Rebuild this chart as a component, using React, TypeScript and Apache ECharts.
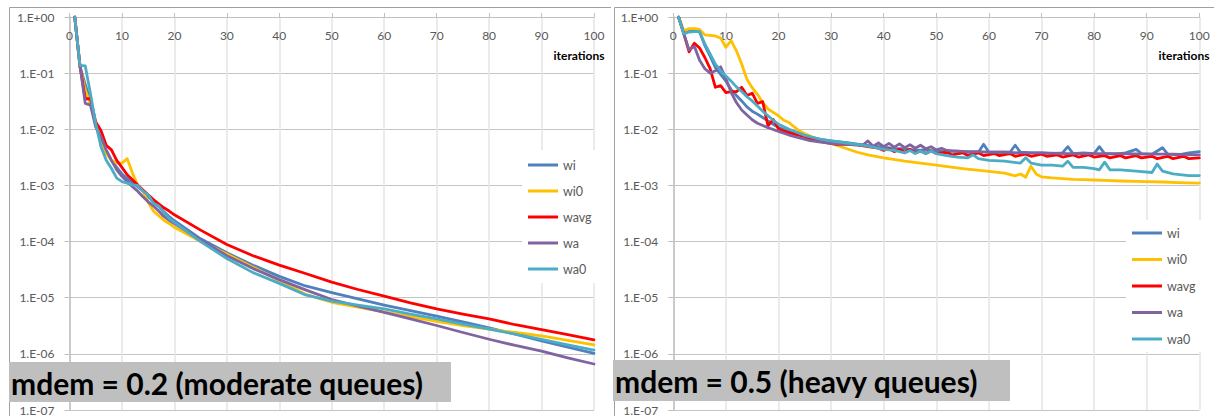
import React, { useEffect, useRef } from "react";
import * as echarts from "echarts";

const SERIES_NAMES = ["wi", "wi0", "wavg", "wa", "wa0"];
const SERIES_COLORS = ["#4F81BD", "#FFC000", "#FF0000", "#8064A2", "#4BACC6"];
const X_TICKS = [0, 10, 20, 30, 40, 50, 60, 70, 80, 90, 100];
const TITLE_LEFT = "mdem = 0.2 (moderate queues)";
const TITLE_RIGHT = "mdem = 0.5 (heavy queues)";
const X_NAME = "iterations";

// ---- left panel (mdem = 0.2) ----
const ITER_L = [1, 2, 3, 4, 5, 6, 7, 8, 9, 10, 11, 12, 13, 14, 15, 16, 17, 18, 19, 20, 25, 30, 35, 40, 45, 50, 55, 60, 65, 70, 75, 80, 85, 90, 95, 100];
const L_WI = [1, 0.13, 0.063, 0.032, 0.0117, 0.0063, 0.004, 0.0028, 0.0021, 0.0016, 0.00132, 0.00112, 9.5e-4, 7.9e-4, 6.3e-4, 5.1e-4, 4.2e-4, 3.4e-4, 2.8e-4, 2.35e-4, 1.12e-4, 6.3e-5, 3.8e-5, 2.4e-5, 1.62e-5, 1.23e-5, 9.5e-6, 7.4e-6, 5.9e-6, 4.7e-6, 3.7e-6, 2.9e-6, 2.24e-6, 1.7e-6, 1.32e-6, 1.02e-6];
const L_WI0 = [1, 0.126, 0.05, 0.028, 0.0126, 0.0056, 0.0037, 0.0028, 0.0025, 0.0025, 0.003, 0.00166, 0.00102, 7.9e-4, 5.0e-4, 3.5e-4, 2.9e-4, 2.4e-4, 2.1e-4, 1.8e-4, 1.0e-4, 6.0e-5, 3.5e-5, 2.0e-5, 1.15e-5, 8.3e-6, 6.8e-6, 5.6e-6, 4.6e-6, 3.8e-6, 3.2e-6, 2.75e-6, 2.4e-6, 2.1e-6, 1.74e-6, 1.45e-6];
const L_WAVG = [1, 0.135, 0.035, 0.035, 0.0135, 0.0095, 0.0052, 0.0043, 0.0028, 0.0021, 0.00155, 0.00126, 0.00102, 8.3e-4, 6.8e-4, 5.6e-4, 4.7e-4, 4.0e-4, 3.5e-4, 3.0e-4, 1.6e-4, 8.9e-5, 5.6e-5, 3.8e-5, 2.7e-5, 1.9e-5, 1.4e-5, 1.07e-5, 8.1e-6, 6.3e-6, 5.1e-6, 4.2e-6, 3.3e-6, 2.7e-6, 2.2e-6, 1.78e-6];
const L_WA = [1, 0.135, 0.029, 0.027, 0.011, 0.0074, 0.0043, 0.0028, 0.0019, 0.00145, 0.00117, 9.5e-4, 7.9e-4, 6.3e-4, 5.1e-4, 4.3e-4, 3.5e-4, 2.8e-4, 2.4e-4, 2.1e-4, 1.07e-4, 5.6e-5, 3.3e-5, 2.1e-5, 1.38e-5, 9.3e-6, 7.1e-6, 5.5e-6, 4.2e-6, 3.2e-6, 2.4e-6, 1.82e-6, 1.41e-6, 1.12e-6, 8.5e-7, 6.6e-7];
const L_WA0 = [1, 0.138, 0.135, 0.043, 0.0126, 0.0049, 0.0028, 0.002, 0.00135, 0.00117, 0.0011, 0.00102, 0.001, 7.9e-4, 6.8e-4, 4.8e-4, 4.3e-4, 3.3e-4, 2.6e-4, 2.2e-4, 1.0e-4, 5.0e-5, 2.8e-5, 1.8e-5, 1.12e-5, 8.7e-6, 7.4e-6, 6.3e-6, 5.1e-6, 4.2e-6, 3.4e-6, 2.75e-6, 2.24e-6, 1.82e-6, 1.45e-6, 1.17e-6];

// ---- right panel (mdem = 0.5): [iteration, value] ----
const R_WI = [[1, 1], [2, 0.54], [3, 0.57], [4, 0.57], [5, 0.54], [6, 0.31], [7, 0.2], [8, 0.126], [9, 0.095], [10, 0.072], [11, 0.051], [12, 0.04], [13, 0.032], [14, 0.025], [15, 0.021], [16, 0.0186], [17, 0.0162], [18, 0.0141], [19, 0.0123], [20, 0.0107], [22, 0.0093], [25, 0.0076], [28, 0.0066], [30, 0.0062], [33, 0.0058], [36, 0.0053], [38, 0.005], [40, 0.0048], [42, 0.0045], [44, 0.0045], [46, 0.0042], [48, 0.0043], [50, 0.0041], [52, 0.004], [54, 0.0041], [56, 0.0039], [58, 0.0039], [59, 0.0054], [60, 0.0039], [62, 0.0039], [64, 0.0039], [65, 0.0052], [66, 0.0039], [68, 0.0038], [70, 0.0038], [72, 0.0037], [74, 0.0038], [75, 0.0049], [76, 0.0037], [78, 0.0038], [80, 0.0037], [81, 0.0049], [82, 0.0037], [84, 0.0036], [86, 0.0038], [88, 0.0044], [89, 0.0037], [91, 0.0036], [93, 0.0047], [94, 0.0036], [96, 0.0035], [98, 0.0038], [100, 0.004]];
const R_WI0 = [[1, 1], [2, 0.57], [3, 0.62], [4, 0.62], [5, 0.6], [6, 0.48], [7, 0.47], [8, 0.46], [9, 0.42], [10, 0.29], [11, 0.38], [12, 0.25], [13, 0.145], [14, 0.078], [15, 0.055], [16, 0.042], [17, 0.03], [18, 0.023], [19, 0.02], [20, 0.0174], [21, 0.0145], [22, 0.0132], [23, 0.011], [24, 0.0093], [25, 0.0083], [26, 0.0076], [27, 0.0069], [28, 0.0063], [30, 0.0056], [33, 0.0045], [35, 0.0039], [37, 0.0035], [40, 0.0031], [44, 0.0027], [50, 0.0023], [55, 0.002], [60, 0.00178], [63, 0.00165], [65, 0.00148], [66, 0.0016], [67, 0.0014], [68, 0.0022], [69, 0.0016], [70, 0.00142], [72, 0.00136], [74, 0.00132], [76, 0.00128], [78, 0.00127], [80, 0.00125], [82, 0.00123], [85, 0.0012], [88, 0.00118], [90, 0.00117], [93, 0.00115], [96, 0.00112], [100, 0.0011]];
const R_WAVG = [[1, 1], [2, 0.5], [3, 0.24], [4, 0.34], [5, 0.28], [6, 0.19], [7, 0.12], [8, 0.056], [9, 0.06], [10, 0.045], [11, 0.047], [12, 0.047], [13, 0.056], [14, 0.04], [15, 0.044], [16, 0.029], [17, 0.031], [18, 0.0115], [19, 0.015], [20, 0.0102], [21, 0.0093], [23, 0.0082], [25, 0.0074], [27, 0.0064], [29, 0.0058], [31, 0.0054], [33, 0.0054], [35, 0.0053], [37, 0.0049], [39, 0.0046], [40, 0.0042], [41, 0.0045], [42, 0.004], [43, 0.0044], [44, 0.0039], [45, 0.0044], [46, 0.0038], [47, 0.0041], [48, 0.0037], [49, 0.0041], [50, 0.0037], [52, 0.0039], [53, 0.0035], [55, 0.0038], [56, 0.0034], [58, 0.0038], [59, 0.0034], [61, 0.0037], [62, 0.0034], [64, 0.0037], [65, 0.0033], [67, 0.0036], [68, 0.0033], [70, 0.0036], [71, 0.0033], [73, 0.0035], [74, 0.0032], [76, 0.0035], [77, 0.0032], [79, 0.0035], [80, 0.0032], [82, 0.0034], [83, 0.0031], [85, 0.0034], [86, 0.0031], [88, 0.0034], [89, 0.0031], [91, 0.0033], [92, 0.003], [94, 0.0033], [95, 0.003], [97, 0.0033], [98, 0.003], [100, 0.0031]];
const R_WA = [[1, 1], [2, 0.5], [3, 0.26], [4, 0.3], [5, 0.17], [6, 0.12], [7, 0.1], [8, 0.11], [9, 0.13], [10, 0.08], [11, 0.045], [12, 0.03], [13, 0.022], [14, 0.018], [15, 0.0148], [16, 0.0128], [17, 0.0117], [18, 0.0107], [19, 0.0099], [20, 0.0092], [22, 0.0079], [24, 0.007], [26, 0.0063], [28, 0.0059], [30, 0.0056], [33, 0.0054], [36, 0.0052], [37, 0.0062], [38, 0.005], [39, 0.0057], [40, 0.0049], [41, 0.0056], [42, 0.0048], [43, 0.0055], [44, 0.0047], [45, 0.0053], [46, 0.0046], [47, 0.0052], [48, 0.0045], [49, 0.0049], [50, 0.0043], [51, 0.0046], [52, 0.0042], [54, 0.0041], [56, 0.004], [58, 0.004], [60, 0.0039], [63, 0.0039], [66, 0.0038], [70, 0.0038], [75, 0.0037], [80, 0.0037], [85, 0.0037], [90, 0.0036], [95, 0.0036], [100, 0.0035]];
const R_WA0 = [[1, 1], [2, 0.5], [3, 0.54], [4, 0.55], [5, 0.55], [6, 0.33], [7, 0.22], [8, 0.145], [9, 0.11], [10, 0.089], [11, 0.072], [12, 0.057], [13, 0.047], [14, 0.038], [15, 0.032], [16, 0.026], [17, 0.021], [18, 0.0174], [19, 0.0145], [20, 0.0123], [22, 0.01], [25, 0.0078], [28, 0.0066], [30, 0.0062], [33, 0.0057], [36, 0.0052], [38, 0.0048], [40, 0.0044], [42, 0.0042], [44, 0.0038], [45, 0.0042], [46, 0.0037], [47, 0.0041], [48, 0.0037], [49, 0.0041], [50, 0.0037], [52, 0.0034], [54, 0.0032], [56, 0.0031], [57, 0.0035], [58, 0.003], [60, 0.0028], [63, 0.0027], [66, 0.0025], [67, 0.0031], [68, 0.0025], [70, 0.0023], [72, 0.0023], [74, 0.0022], [75, 0.0027], [76, 0.0021], [78, 0.0021], [80, 0.002], [81, 0.0019], [82, 0.0026], [83, 0.0019], [85, 0.0019], [88, 0.0018], [91, 0.0017], [92, 0.0024], [93, 0.0018], [95, 0.0016], [98, 0.0015], [100, 0.0015]];

const LEFT_VALUES = [L_WI, L_WI0, L_WAVG, L_WA, L_WA0];
const RIGHT_VALUES = [R_WI, R_WI0, R_WAVG, R_WA, R_WA0];

const FONT = "Lato, 'Liberation Sans', sans-serif";

function fmtY(v: number): string {
  const e = Math.round(Math.log10(v));
  const a = Math.abs(e);
  return "1.E" + (e >= 0 ? "+" : "-") + (a < 10 ? "0" + a : String(a));
}

function buildOption() {
  const grids = [
    { left: 69.5, top: 17, width: 524.5, height: 394 },
    { left: 673.3, top: 17, width: 526, height: 394 },
  ];
  const xAxes = grids.map((_, i) => ({
    gridIndex: i,
    type: "value",
    min: X_TICKS[0],
    max: X_TICKS[X_TICKS.length - 1],
    interval: 10,
    position: "top",
    axisLine: { show: true, onZero: false, lineStyle: { color: "#bfbfbf", width: 1 } },
    axisTick: { show: true, length: 4, lineStyle: { color: "#bfbfbf" } },
    axisLabel: { inside: true, margin: 12, color: "#595959", fontSize: 12, fontFamily: FONT },
    splitLine: { show: true, lineStyle: { color: "#e4e4e4", width: 1.5 } },
  }));
  const yAxes = grids.map((_, i) => ({
    gridIndex: i,
    type: "log",
    logBase: 10,
    min: 1e-7,
    max: 1,
    splitNumber: 7,
    axisLine: { show: true, lineStyle: { color: "#bfbfbf", width: 1.5 } },
    axisTick: { show: true, length: 5, lineStyle: { color: "#bfbfbf" } },
    axisLabel: { formatter: fmtY, margin: 15, color: "#595959", fontSize: 12, fontFamily: FONT },
    splitLine: { show: true, lineStyle: { color: "#c4c4c4", width: 1 } },
    minorTick: { show: false },
    minorSplitLine: { show: false },
  }));
  const series: any[] = [];
  SERIES_NAMES.forEach((name, k) => {
    series.push({
      name,
      type: "line",
      xAxisIndex: 0,
      yAxisIndex: 0,
      data: ITER_L.map((it, j) => [it, LEFT_VALUES[k][j]]),
      symbol: "none",
      showSymbol: false,
      clip: true,
      z: 2 + k,
      lineStyle: { width: 2.8, color: SERIES_COLORS[k], join: "round", cap: "round" },
      itemStyle: { color: SERIES_COLORS[k] },
    });
  });
  SERIES_NAMES.forEach((name, k) => {
    series.push({
      name,
      type: "line",
      xAxisIndex: 1,
      yAxisIndex: 1,
      data: RIGHT_VALUES[k],
      symbol: "none",
      showSymbol: false,
      clip: true,
      z: 2 + k,
      lineStyle: { width: 2.8, color: SERIES_COLORS[k], join: "round", cap: "round" },
      itemStyle: { color: SERIES_COLORS[k] },
    });
  });
  const legendBase = {
    data: SERIES_NAMES,
    orient: "vertical",
    icon: "rect",
    itemWidth: 30,
    itemHeight: 3,
    backgroundColor: "#ffffff",
    selectedMode: false,
    textStyle: { color: "#595959", fontSize: 12.5, fontFamily: FONT, lineHeight: 14 },
  };
  const legends = [
    { ...legendBase, left: 522, top: 150, padding: [8, 10, 7, 6], itemGap: 12 },
    { ...legendBase, left: 1126, top: 220, padding: [6, 10, 6, 6], itemGap: 12.5 },
  ];
  const border = "#a0a0a0";
  const graphic = [
    { type: "line", z: 50, shape: { x1: 9.5, y1: 7.5, x2: 611, y2: 7.5 }, style: { stroke: border, lineWidth: 1 } },
    { type: "line", z: 50, shape: { x1: 9.5, y1: 7.5, x2: 9.5, y2: 416 }, style: { stroke: border, lineWidth: 1 } },
    { type: "line", z: 50, shape: { x1: 614.5, y1: 7.5, x2: 1214, y2: 7.5 }, style: { stroke: border, lineWidth: 1 } },
    { type: "line", z: 50, shape: { x1: 614.5, y1: 7.5, x2: 614.5, y2: 416 }, style: { stroke: border, lineWidth: 1 } },
    { type: "rect", z: 100, shape: { x: 9, y: 362, width: 442, height: 40 }, style: { fill: "#bfbfbf" } },
    { type: "rect", z: 100, shape: { x: 613, y: 360, width: 397, height: 41 }, style: { fill: "#bfbfbf" } },
    { type: "text", z: 101, x: 11, y: 383, style: { text: TITLE_LEFT, font: "bold 30px " + FONT, fill: "#000", textAlign: "left", textVerticalAlign: "middle", align: "left", verticalAlign: "middle" } },
    { type: "text", z: 101, x: 615, y: 381, style: { text: TITLE_RIGHT, font: "bold 30px " + FONT, fill: "#000", textAlign: "left", textVerticalAlign: "middle", align: "left", verticalAlign: "middle" } },
    { type: "text", z: 101, x: 579, y: 55, style: { text: X_NAME, font: "bold 12px " + FONT, fill: "#000", textAlign: "center", textVerticalAlign: "middle", align: "center", verticalAlign: "middle" } },
    { type: "text", z: 101, x: 1184, y: 55, style: { text: X_NAME, font: "bold 12px " + FONT, fill: "#000", textAlign: "center", textVerticalAlign: "middle", align: "center", verticalAlign: "middle" } },
  ];
  return {
    animation: false,
    backgroundColor: "#ffffff",
    textStyle: { fontFamily: FONT },
    grid: grids,
    xAxis: xAxes,
    yAxis: yAxes,
    legend: legends,
    series,
    graphic,
  };
}

export default function App() {
  const ref = useRef<HTMLDivElement>(null);
  useEffect(() => {
    if (!ref.current) return;
    const chart = echarts.init(ref.current, undefined, { renderer: "svg" });
    chart.setOption(buildOption() as any);
    return () => chart.dispose();
  }, []);
  return (
    <div
      ref={ref}
      style={{ position: "absolute", left: 0, top: 0, width: 1214, height: 416, background: "#fff" }}
    />
  );
}
